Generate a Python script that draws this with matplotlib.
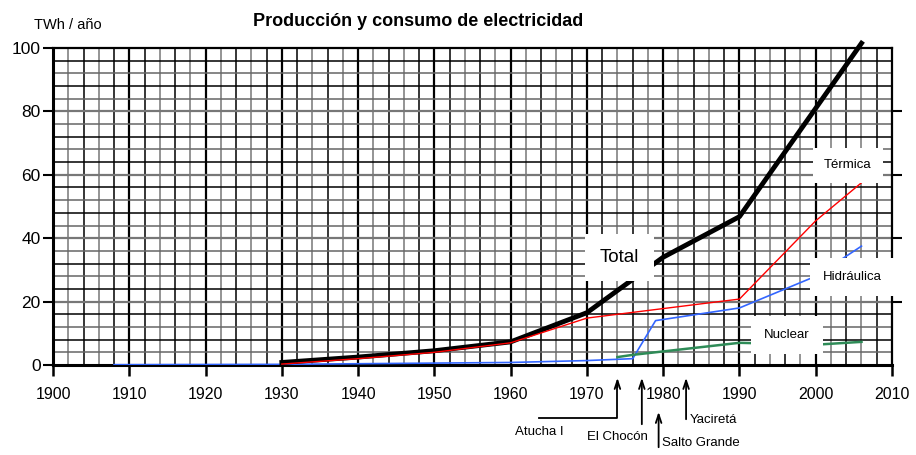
import matplotlib
matplotlib.use('Agg')
import matplotlib.pyplot as plt
import matplotlib.transforms as mtransforms

plt.rcParams['font.family'] = ['Liberation Sans Narrow', 'Liberation Sans', 'DejaVu Sans']

# datos (TWh / año)
anios_total = [1930, 1940, 1950, 1960, 1970, 1980, 1990, 2000, 2006]
total = [0.8, 2.5, 4.5, 7.3, 16.5, 34, 46.8, 81, 101.5]

anios_termica = [1930, 1940, 1950, 1960, 1970, 1990, 2000, 2006]
termica = [0.3, 2.0, 4.0, 7.0, 14.8, 20.8, 45.5, 57.5]

anios_hidro = [1908, 1930, 1960, 1970, 1976, 1979, 1990, 2000, 2006]
hidro = [0.1, 0.2, 0.8, 1.4, 2.0, 14.0, 18.0, 28.0, 37.5]

anios_nuclear = [1974, 1976, 1990, 2000, 2006]
nuclear = [2.5, 3.2, 7.0, 6.4, 7.3]

centrales = ['Atucha I', 'El Chocón', 'Salto Grande', 'Yaciretá']
anios_centrales = [1974, 1977.2, 1979.4, 1983]

x_ticks = list(range(1900, 2011, 10))
y_ticks = list(range(0, 101, 20))

fig = plt.figure(figsize=(9.16, 4.55), dpi=100)
ax = fig.add_axes([0.0579, 0.1978, 0.9159, 0.6967])
ax.set_xlim(1900, 2010)
ax.set_ylim(0, 100)

# cuadricula
for x in range(1902, 2010, 2):
    if x % 10 == 0:
        ax.axvline(x, color='black', lw=1.6, zorder=1)
    else:
        ax.axvline(x, color='black' if x % 4 == 0 else '#777777', lw=1.1, zorder=1)
for y in range(4, 100, 4):
    if y % 20 == 0:
        ax.axhline(y, color='#777777', lw=1.6, zorder=1)
    else:
        ax.axhline(y, color='black' if y % 8 == 0 else '#666666', lw=1.1, zorder=1)

# series
ax.plot(anios_hidro, hidro, color='#3366ff', lw=1.2, zorder=3)
ax.plot(anios_nuclear, nuclear, color='#2e8b57', lw=1.8, zorder=3)
ax.plot(anios_total, total, color='black', lw=3.5, zorder=4, clip_on=False)
ax.plot(anios_termica, termica, color='#ff0000', lw=1.0, zorder=5)

ax.text(1974.3, 34, 'Total', fontsize=13.5, ha='center', va='center', zorder=6,
        bbox=dict(facecolor='white', edgecolor='none', boxstyle='square,pad=0.8'))
ax.text(2004.2, 63, 'Térmica', fontsize=9.5, ha='center', va='center', zorder=6,
        bbox=dict(facecolor='white', edgecolor='none', boxstyle='square,pad=0.85'))
ax.text(2004.8, 27.8, 'Hidráulica', fontsize=9.5, ha='center', va='center', zorder=6,
        bbox=dict(facecolor='white', edgecolor='none', boxstyle='square,pad=1.0'))
ax.text(1996.2, 9.5, 'Nuclear', fontsize=9.5, ha='center', va='center', zorder=6,
        bbox=dict(facecolor='white', edgecolor='none', boxstyle='square,pad=1.0'))

# ejes
for s in ['left', 'bottom']:
    ax.spines[s].set_linewidth(2.2)
for s in ['top', 'right']:
    ax.spines[s].set_linewidth(1.6)
ax.spines['bottom'].set_zorder(2)
ax.set_xticks(x_ticks)
ax.set_yticks(y_ticks)
ax.tick_params(axis='x', direction='out', length=8, width=1.8, labelsize=11.5, pad=8)
ax.tick_params(axis='y', direction='out', length=7, width=1.5, labelsize=12.5, pad=2,
               right=True, labelright=False)
for t in ax.yaxis.get_ticklines()[1::2]:
    t.set_color('#777777')
# ticks derechos en gris, solo 20-80
ax.yaxis.get_ticklines()[1].set_visible(False)
ax.yaxis.get_ticklines()[-1].set_visible(False)

fig.text(0.037, 0.945, 'TWh / año', fontsize=10.5, ha='left', va='center')
fig.text(0.456, 0.953, 'Producción y consumo de electricidad', fontsize=13,
         fontweight='bold', ha='center', va='center')

# centrales
trans = mtransforms.blended_transform_factory(ax.transData, ax.transAxes)
arrow = dict(arrowstyle='->,head_width=0.2,head_length=0.6', color='black', lw=1.3)
px = 1 / 317.0
# Atucha I
ax.plot([1963.7, anios_centrales[0], anios_centrales[0]], [-53 * px, -53 * px, -20 * px],
        color='black', lw=1.3, transform=trans, clip_on=False)
ax.annotate('', xy=(anios_centrales[0], -10 * px), xytext=(anios_centrales[0], -25 * px),
            xycoords=trans, textcoords=trans, arrowprops=arrow, annotation_clip=False)
ax.text(1963.7, -67 * px, centrales[0], transform=trans, fontsize=9.5, ha='center', va='center')
# El Chocón
ax.annotate('', xy=(anios_centrales[1], -10 * px), xytext=(anios_centrales[1], -62 * px),
            xycoords=trans, textcoords=trans, arrowprops=arrow, annotation_clip=False)
ax.text(anios_centrales[1] + 0.8, -72 * px, centrales[1], transform=trans, fontsize=9.5,
        ha='right', va='center')
# Salto Grande
ax.annotate('', xy=(anios_centrales[2], -44 * px), xytext=(anios_centrales[2], -85 * px),
            xycoords=trans, textcoords=trans, arrowprops=arrow, annotation_clip=False)
ax.text(anios_centrales[2] + 0.5, -78 * px, centrales[2], transform=trans, fontsize=9.5,
        ha='left', va='center')
# Yaciretá
ax.annotate('', xy=(anios_centrales[3], -10 * px), xytext=(anios_centrales[3], -57 * px),
            xycoords=trans, textcoords=trans, arrowprops=arrow, annotation_clip=False)
ax.text(anios_centrales[3] + 0.5, -55 * px, centrales[3], transform=trans, fontsize=9.5,
        ha='left', va='center')

fig.savefig('out.png', dpi=100)
